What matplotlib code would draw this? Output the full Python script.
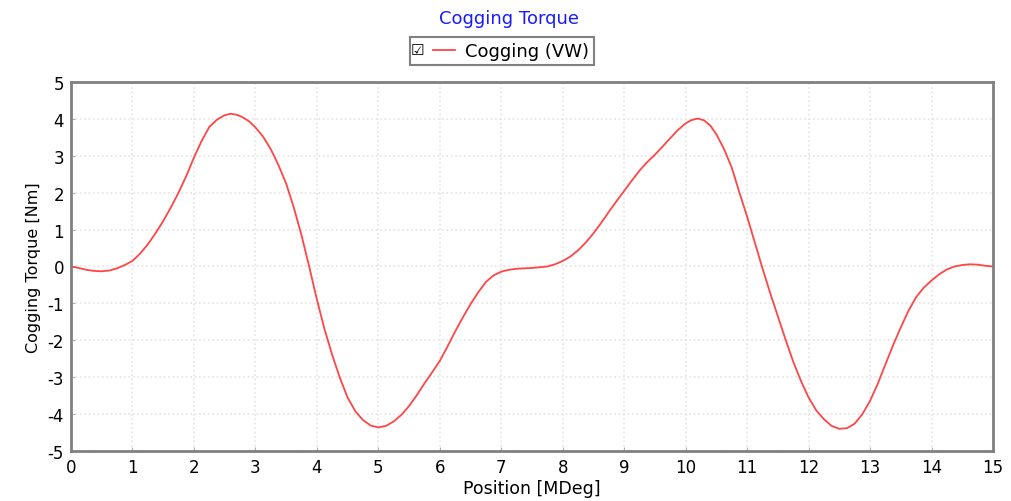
import matplotlib
matplotlib.use('Agg')
import matplotlib.pyplot as plt
from matplotlib.legend_handler import HandlerLine2D

plt.rcParams['font.family'] = ['DejaVu Sans']
plt.rcParams['axes.unicode_minus'] = False

position = [0.000, 0.125, 0.250, 0.375, 0.500, 0.625, 0.750, 0.875, 1.000, 1.125,
            1.250, 1.375, 1.500, 1.625, 1.750, 1.875, 2.000, 2.125, 2.250, 2.375,
            2.500, 2.600, 2.700, 2.800, 2.900, 3.000, 3.125, 3.250, 3.375, 3.500,
            3.625, 3.750, 3.875, 4.000, 4.125, 4.250, 4.375, 4.500, 4.625, 4.750,
            4.875, 5.000, 5.125, 5.250, 5.375, 5.500, 5.625, 5.750, 5.875, 6.000,
            6.125, 6.250, 6.375, 6.500, 6.625, 6.750, 6.875, 7.000, 7.125, 7.250,
            7.500, 7.750, 7.875, 8.000, 8.125, 8.250, 8.375, 8.500, 8.625, 8.750,
            8.875, 9.000, 9.125, 9.250, 9.375, 9.500, 9.625, 9.750, 9.875, 10.000,
            10.100, 10.200, 10.300, 10.400, 10.500, 10.625, 10.750, 10.875, 11.000, 11.125,
            11.250, 11.375, 11.500, 11.625, 11.750, 11.875, 12.000, 12.125, 12.250, 12.375,
            12.500, 12.625, 12.750, 12.875, 13.000, 13.125, 13.250, 13.375, 13.500, 13.625,
            13.750, 13.875, 14.000, 14.125, 14.250, 14.375, 14.500, 14.625, 14.750, 14.875,
            15.000]
torque = [0.00, -0.04, -0.09, -0.12, -0.13, -0.11, -0.05, 0.04, 0.15, 0.35,
          0.60, 0.90, 1.23, 1.60, 2.00, 2.45, 2.95, 3.40, 3.78, 3.98,
          4.10, 4.14, 4.11, 4.04, 3.93, 3.77, 3.52, 3.18, 2.75, 2.25,
          1.60, 0.85, 0.00, -0.89, -1.70, -2.40, -3.02, -3.55, -3.92, -4.16,
          -4.31, -4.36, -4.32, -4.20, -4.02, -3.78, -3.49, -3.17, -2.87, -2.56,
          -2.17, -1.76, -1.38, -1.02, -0.70, -0.42, -0.24, -0.14, -0.09, -0.06,
          -0.04, 0.00, 0.06, 0.15, 0.27, 0.44, 0.65, 0.90, 1.18, 1.48,
          1.77, 2.05, 2.33, 2.60, 2.83, 3.03, 3.25, 3.48, 3.70, 3.88,
          3.97, 4.01, 3.96, 3.82, 3.58, 3.18, 2.68, 2.00, 1.35, 0.65,
          -0.05, -0.72, -1.35, -1.98, -2.58, -3.10, -3.55, -3.90, -4.14, -4.32,
          -4.40, -4.38, -4.26, -4.00, -3.64, -3.18, -2.65, -2.13, -1.65, -1.20,
          -0.83, -0.57, -0.38, -0.21, -0.08, 0.00, 0.04, 0.06, 0.05, 0.02,
          0.00]

xticks = list(range(0, 16))
yticks = list(range(-5, 6))

fig = plt.figure(figsize=(10.11, 5.02), dpi=100)
ax = fig.add_axes([0.0702, 0.0996, 0.912, 0.7351])

line, = ax.plot(position, torque, color='#ff4545', lw=1.3, label='Cogging (VW)')

ax.set_xlim(0, 15)
ax.set_ylim(-5, 5)
ax.set_xticks(xticks)
ax.set_yticks(yticks)
ax.grid(True, color='#e4e4e4', linestyle=':', lw=1.2)
ax.tick_params(direction='in', length=3, color='#b0b0b0', labelsize=12, pad=5)
for s in ax.spines.values():
    s.set_color('#808080')
    s.set_linewidth(2)
ax.set_xlabel('Position [MDeg]', fontsize=12.5, labelpad=2)
ax.set_ylabel('Cogging Torque [Nm]', fontsize=11.5, labelpad=5)

fig.text(0.503, 0.962, 'Cogging Torque', color='#1a1aff', fontsize=13,
         ha='center', va='center')
leg = fig.legend(handles=[line], loc='center', bbox_to_anchor=(0.4965, 0.896),
                 fontsize=13, frameon=True, fancybox=False, handlelength=2.2,
                 handletextpad=0.55, borderpad=0.28, borderaxespad=0,
                 handler_map={line: HandlerLine2D(xpad=0.97)})
leg.get_frame().set_edgecolor('#606060')
leg.get_frame().set_linewidth(1.5)
fig.text(0.4125, 0.899, '\u2611', fontsize=11, color='black',
         ha='center', va='center', zorder=10)

fig.savefig('out.png', dpi=100)
